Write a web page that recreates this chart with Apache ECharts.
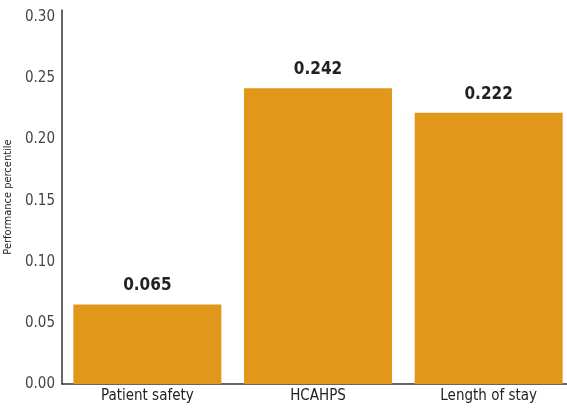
<!DOCTYPE html>
<html>
<head>
<meta charset="utf-8">
<script src="https://cdn.jsdelivr.net/npm/echarts@6/dist/echarts.min.js"></script>
<style>
  html, body { margin: 0; padding: 0; background: #fff; }
  #chart { width: 567px; height: 408px; }
</style>
</head>
<body>
<div id="chart"></div>
<script>
// Performance percentile by measure
const categories = ['Patient safety', 'HCAHPS', 'Length of stay'];
const values = [0.065, 0.242, 0.222];
const yTicks = [0, 0.05, 0.10, 0.15, 0.20, 0.25, 0.30];

const narrow = '"Liberation Sans Narrow", "DejaVu Sans Condensed", "Liberation Sans", sans-serif';
const barColor = '#E0971A';

const chart = echarts.init(document.getElementById('chart'), null, { renderer: 'canvas' });
chart.setOption({
  animation: false,
  grid: { left: 62, right: -7, top: 10, bottom: 24, containLabel: false, outerBoundsMode: 'none' },
  xAxis: {
    type: 'category',
    data: categories,
    axisLine: { lineStyle: { color: '#333', width: 1.5 } },
    axisTick: { show: false },
    axisLabel: { color: '#222', fontFamily: narrow, fontSize: 15, margin: 5 }
  },
  yAxis: {
    type: 'value',
    min: 0,
    max: 0.306,
    interval: 0.05,
    name: 'Performance percentile',
    nameLocation: 'middle',
    nameGap: 46,
    nameTextStyle: { color: '#222', fontFamily: narrow, fontSize: 11 },
    axisLine: { show: true, lineStyle: { color: '#333', width: 1.5 } },
    axisTick: { show: false },
    splitLine: { show: false },
    axisLabel: {
      color: '#444',
      fontFamily: narrow,
      fontSize: 15,
      margin: 7,
      showMaxLabel: false,
      formatter: v => {
        const t = yTicks.find(x => Math.abs(x - v) < 1e-9);
        return t === undefined ? '' : t.toFixed(2);
      }
    }
  },
  series: [{
    type: 'bar',
    data: values,
    barCategoryGap: '13.3%',
    itemStyle: { color: barColor },
    label: {
      show: true,
      position: 'top',
      distance: 10,
      color: '#222',
      fontFamily: narrow,
      fontWeight: 'bold',
      fontSize: 17,
      formatter: p => p.value.toFixed(3)
    }
  }]
});
</script>
</body>
</html>
